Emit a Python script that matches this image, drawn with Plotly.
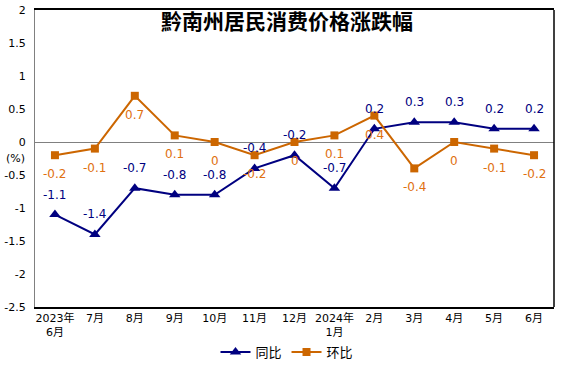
import plotly.graph_objects as go

months = ["2023年<br>6月", "7月", "8月", "9月", "10月", "11月", "12月", "2024年<br>1月",
          "2月", "3月", "4月", "5月", "6月"]
yoy = [-1.1, -1.4, -0.7, -0.8, -0.8, -0.4, -0.2, -0.7, 0.2, 0.3, 0.3, 0.2, 0.2]
mom = [-0.2, -0.1, 0.7, 0.1, 0, -0.2, 0, 0.1, 0.4, -0.4, 0, -0.1, -0.2]
ytick_vals = [2, 1.5, 1, 0.5, 0, -0.5, -1, -1.5, -2, -2.5]
ytick_text = ["2", "1.5", "1", "0.5", "0", "-0.5", "-1", "-1.5", "-2", "-2.5"]

NAVY = "#000080"
ORANGE = "#CC6600"
LABEL_ORANGE = "#E07010"
FONT = "DejaVu Sans, Noto Sans CJK SC, sans-serif"

W, H = 574, 374
L, T = 35, 10
PW, PH = 519, 297

x = list(range(len(months)))

fig = go.Figure()
fig.add_trace(go.Scatter(x=x, y=yoy, name="同比", mode="lines+markers",
                         line=dict(color=NAVY, width=2),
                         marker=dict(symbol="triangle-up", size=10, color=NAVY)))
fig.add_trace(go.Scatter(x=x, y=mom, name="环比", mode="lines+markers",
                         line=dict(color=ORANGE, width=2),
                         marker=dict(symbol="square", size=8, color=ORANGE)))

annotations = []
for i, v in enumerate(yoy):
    annotations.append(dict(x=i, y=v, text=f"{v:g}", showarrow=False, yshift=20,
                            font=dict(color=NAVY, size=12, family=FONT)))
for i, v in enumerate(mom):
    annotations.append(dict(x=i, y=v, text=f"{v:g}", showarrow=False, yshift=-19,
                            font=dict(color=LABEL_ORANGE, size=12, family=FONT)))
annotations.append(dict(xref="paper", yref="paper", x=(15 - L) / PW, y=1 - (158 - T) / PH,
                        text="(%)", showarrow=False, xanchor="center", yanchor="middle",
                        font=dict(color="black", size=11, family=FONT)))

fig.update_layout(
    width=W, height=H,
    margin=dict(l=L, r=W - L - PW, t=T, b=H - T - PH, autoexpand=False),
    paper_bgcolor="white", plot_bgcolor="white",
    font=dict(family=FONT, color="black", size=11),
    title=dict(text="<b>黔南州居民消费价格涨跌幅</b>", x=287 / W, xanchor="center",
               y=1 - 22 / H, yanchor="middle",
               font=dict(size=21, color="black", family="Noto Sans CJK SC, sans-serif")),
    showlegend=True,
    legend=dict(orientation="h", x=(287 - L) / PW, xanchor="center",
                y=-(352 - 307) / PH, yanchor="middle",
                font=dict(size=13, family="Noto Sans CJK SC, sans-serif"),
                itemwidth=30, tracegroupgap=0),
    annotations=annotations,
    shapes=[dict(type="line", xref="paper", yref="paper", x0=1, x1=1, y0=0, y1=1,
                 line=dict(color="black", width=1.5))],
)
fig.update_xaxes(range=[-0.5, len(months) - 0.5], tickvals=x, ticktext=months,
                 showgrid=False, zeroline=False, showline=True, mirror=True,
                 linecolor="black", linewidth=1.5, ticks="", automargin=False,
                 tickfont=dict(size=11, family=FONT))
fig.update_yaxes(range=[-2.5, 2], tickvals=ytick_vals, ticktext=ytick_text,
                 showgrid=False, zeroline=True, zerolinecolor="#808080", zerolinewidth=1,
                 showline=True, linecolor="#808080", linewidth=1, ticks="", automargin=False,
                 ticklabelstandoff=6, tickfont=dict(size=11, family=FONT))

fig.write_html("out.html", config={"displayModeBar": False},
               post_script="document.body.style.margin='0';")
